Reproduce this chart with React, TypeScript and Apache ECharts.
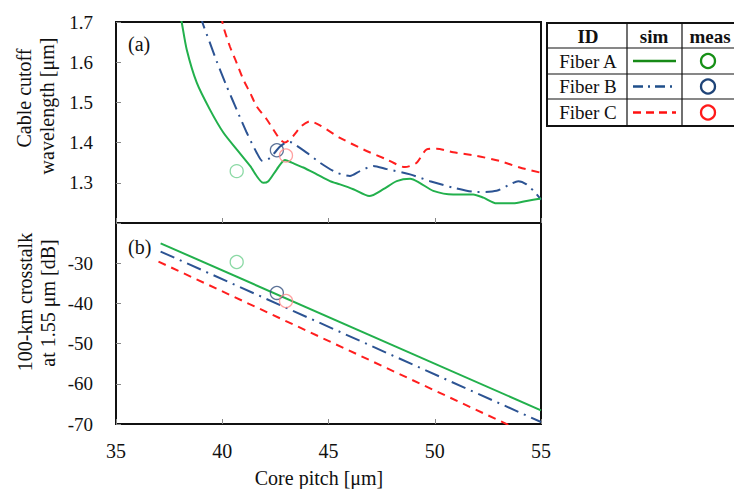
import { useEffect, useRef } from 'react';
import * as echarts from 'echarts';

const FONT = '"Liberation Serif", "Times New Roman", serif';

const fibers = ['Fiber A', 'Fiber B', 'Fiber C'];
const lineColors = ['#22b04c', '#2c5393', '#ff1e1e'];
const legendLineColors = ['#178a17', '#1f4f8a', '#ff1010'];
const measColors = ['#6fd08e', '#35507e', '#ff8a8a'];
const legendMeasColors = ['#179017', '#1f4478', '#ff1a1a'];

const pitchTicks = [35, 40, 45, 50, 55];
const cutoffTicks = [1.2, 1.3, 1.4, 1.5, 1.6, 1.7];
const xtTicks = [-70, -60, -50, -40, -30, -20];

// simulated cable cutoff wavelength [um] vs core pitch [um]
const cutoffA: [number, number][] = [
  [37.98, 1.73], [38.09, 1.70], [38.33, 1.631], [38.8, 1.549], [39.42, 1.482], [40.05, 1.425],
  [40.68, 1.383], [41.31, 1.342], [41.93, 1.300], [42.17, 1.304], [42.56, 1.333], [42.95, 1.357],
  [43.27, 1.350], [43.82, 1.338], [44.45, 1.321], [45.07, 1.304], [45.54, 1.296], [46.17, 1.284],
  [46.92, 1.267], [47.58, 1.284], [48.21, 1.304], [48.84, 1.310], [49.29, 1.300], [49.93, 1.280],
  [50.87, 1.271], [51.81, 1.271], [52.29, 1.263], [52.91, 1.249], [53.69, 1.249], [54.32, 1.255],
  [55.0, 1.261],
];
const cutoffB: [number, number][] = [
  [38.98, 1.72], [39.08, 1.697], [39.42, 1.648], [39.74, 1.602], [40.21, 1.54], [40.68, 1.482],
  [41.15, 1.425], [41.62, 1.375], [41.9, 1.354], [42.25, 1.362], [42.72, 1.39], [43.1, 1.402],
  [43.27, 1.40], [43.97, 1.375], [44.6, 1.35], [45.39, 1.325], [46.01, 1.317], [46.48, 1.329],
  [47.11, 1.342], [47.74, 1.334], [48.84, 1.321], [49.78, 1.304], [50.87, 1.288], [51.97, 1.277],
  [52.91, 1.28], [53.54, 1.296], [53.93, 1.304], [54.32, 1.296], [54.72, 1.276], [55.0, 1.258],
];
const cutoffC: [number, number][] = [
  [39.95, 1.715], [40.05, 1.689], [40.36, 1.639], [40.68, 1.598], [40.99, 1.557], [41.31, 1.524],
  [41.62, 1.49], [42.09, 1.458], [42.4, 1.433], [42.72, 1.408], [42.95, 1.40], [43.33, 1.416],
  [43.73, 1.441], [44.13, 1.453], [44.6, 1.443], [45.54, 1.412], [46.64, 1.383], [47.74, 1.358],
  [48.6, 1.339], [49.15, 1.35], [49.62, 1.383], [50.09, 1.385], [50.87, 1.376], [51.97, 1.367],
  [53.07, 1.354], [54.0, 1.338], [55.0, 1.325],
];

// simulated 100-km crosstalk at 1.55 um [dB]
const xtA: [number, number][] = [[37.1, -25.05], [55.0, -66.6]];
const xtB: [number, number][] = [[37.1, -27.1], [55.0, -69.5]];
const xtC: [number, number][] = [[37.0, -29.6], [55.0, -74.0]];

// measured values
const measPitch = [40.68, 42.57, 43.0];
const measCutoff = [1.329, 1.381, 1.368];
const measXt = [-29.7, -37.4, -39.4];

const cutoffSeries = [cutoffA, cutoffB, cutoffC];
const xtSeries = [xtA, xtB, xtC];
const dashTypes: any[] = ['solid', [15, 6, 2, 6], [8, 6]];

export default function App() {
  const ref = useRef<HTMLDivElement>(null);
  useEffect(() => {
    if (!ref.current) return;
    const chart = echarts.init(ref.current, undefined, { renderer: 'svg' });
    const tickStyle = { inside: true, length: 5, lineStyle: { color: '#888', width: 1 } };
    const labelStyle = { color: '#111', fontFamily: FONT, fontSize: 19 };

    const series: any[] = [];
    fibers.forEach((name, i) => {
      series.push({
        type: 'line', name: name + ' sim', xAxisIndex: 0, yAxisIndex: 0,
        data: cutoffSeries[i], smooth: 0.25, showSymbol: false, clip: true,
        lineStyle: { color: lineColors[i], width: 2, type: dashTypes[i] },
        z: 3 - i,
      });
      series.push({
        type: 'line', name: name + ' sim xt', xAxisIndex: 1, yAxisIndex: 1,
        data: xtSeries[i], showSymbol: false, clip: true,
        lineStyle: { color: lineColors[i], width: 2, type: dashTypes[i] },
        z: 3 - i,
      });
      series.push({
        type: 'scatter', xAxisIndex: 0, yAxisIndex: 0,
        data: [[measPitch[i], measCutoff[i]]], symbol: 'circle', symbolSize: 13,
        itemStyle: { color: 'transparent', borderColor: measColors[i], borderWidth: 1.3 },
        z: 5,
      });
      series.push({
        type: 'scatter', xAxisIndex: 1, yAxisIndex: 1,
        data: [[measPitch[i], measXt[i]]], symbol: 'circle', symbolSize: 13,
        itemStyle: { color: 'transparent', borderColor: measColors[i], borderWidth: 1.3 },
        z: 5,
      });
    });

    const graphic: any[] = [];
    // panel labels
    graphic.push({ type: 'text', x: 128, y: 44, style: { text: '(a)', font: `20px ${FONT}`, fill: '#111', textVerticalAlign: 'middle' }, z: 10 });
    graphic.push({ type: 'text', x: 128, y: 247, style: { text: '(b)', font: `20px ${FONT}`, fill: '#111', textVerticalAlign: 'middle' }, z: 10 });
    // axis titles
    const rotText = (text: string, x: number, y: number) => ({
      type: 'text', x, y, rotation: Math.PI / 2,
      style: { text, font: `20px ${FONT}`, fill: '#111', textAlign: 'center', textVerticalAlign: 'middle' },
    });
    graphic.push(rotText('Cable cutoff', 24, 98));
    graphic.push(rotText('wavelength [μm]', 47, 106));
    graphic.push(rotText('100-km crosstalk', 25, 302));
    graphic.push(rotText('at 1.55 μm [dB]', 48, 303));
    graphic.push({ type: 'text', x: 319, y: 478, style: { text: 'Core pitch [μm]', font: `20px ${FONT}`, fill: '#111', textAlign: 'center', textVerticalAlign: 'middle' } });

    // legend table
    const tl = 547, tt = 23, tr = 745, tb = 126;
    const c1 = 627, c2 = 682;
    const rows = [23, 48, 74, 99, 126];
    graphic.push({ type: 'rect', shape: { x: tl, y: tt, width: tr - tl, height: tb - tt }, style: { fill: '#fff', stroke: '#111', lineWidth: 2 }, z: 20 });
    [c1, c2].forEach((cx) => graphic.push({ type: 'line', shape: { x1: cx, y1: tt, x2: cx, y2: tb }, style: { stroke: '#111', lineWidth: 1.2 }, z: 21 }));
    rows.slice(1, 4).forEach((ry) => graphic.push({ type: 'line', shape: { x1: tl, y1: ry, x2: tr, y2: ry }, style: { stroke: '#111', lineWidth: 1.2 }, z: 21 }));
    const cellText = (text: string, x: number, y: number, bold: boolean) => ({
      type: 'text', x, y, z: 22,
      style: { text, font: `${bold ? 'bold ' : ''}19px ${FONT}`, fill: '#111', textAlign: 'center', textVerticalAlign: 'middle' },
    });
    graphic.push(cellText('ID', 588, 36, true));
    graphic.push(cellText('sim', 654, 36, true));
    graphic.push(cellText('meas', 710, 36, true));
    fibers.forEach((name, i) => {
      const cy = (rows[i + 1] + rows[i + 2]) / 2;
      graphic.push(cellText(name, 588, cy, false));
      const dash = i === 0 ? null : i === 1 ? [10, 5, 2, 5] : [8, 5];
      graphic.push({ type: 'line', z: 22, shape: { x1: 633, y1: cy, x2: 676, y2: cy }, style: { stroke: legendLineColors[i], lineWidth: 2.5, lineDash: dash } });
      graphic.push({ type: 'circle', z: 22, shape: { cx: 708, cy, r: 7 }, style: { fill: 'none', stroke: legendMeasColors[i], lineWidth: 2.3 } });
    });

    chart.setOption({
      animation: false,
      backgroundColor: '#fff',
      grid: [
        { left: 116, top: 22, width: 425, height: 201, show: true, borderColor: '#111', borderWidth: 2, backgroundColor: 'transparent' },
        { left: 116, top: 223, width: 425, height: 201, show: true, borderColor: '#111', borderWidth: 2, backgroundColor: 'transparent' },
      ],
      xAxis: [
        { type: 'value', gridIndex: 0, min: pitchTicks[0], max: pitchTicks[pitchTicks.length - 1], interval: 5,
          axisLine: { show: false }, axisTick: tickStyle, axisLabel: { show: false }, splitLine: { show: false } },
        { type: 'value', gridIndex: 1, min: pitchTicks[0], max: pitchTicks[pitchTicks.length - 1], interval: 5,
          axisLine: { show: false }, axisTick: tickStyle, axisLabel: { ...labelStyle, fontSize: 20, margin: 17 }, splitLine: { show: false } },
      ],
      yAxis: [
        { type: 'value', gridIndex: 0, min: cutoffTicks[0], max: cutoffTicks[cutoffTicks.length - 1], interval: 0.1,
          axisLine: { show: false }, axisTick: tickStyle, splitLine: { show: false },
          axisLabel: { ...labelStyle, margin: 23, formatter: (v: number) => (v < 1.25 ? '' : v.toFixed(1)) } },
        { type: 'value', gridIndex: 1, min: xtTicks[0], max: xtTicks[xtTicks.length - 1], interval: 10,
          axisLine: { show: false }, axisTick: tickStyle, splitLine: { show: false },
          axisLabel: { ...labelStyle, margin: 23, formatter: (v: number) => (v > -25 ? '' : String(v)) } },
      ],
      series,
      graphic,
    });
    return () => chart.dispose();
  }, []);
  return <div ref={ref} style={{ position: 'fixed', left: 0, top: 0, width: 734, height: 489, background: '#fff' }} />;
}
